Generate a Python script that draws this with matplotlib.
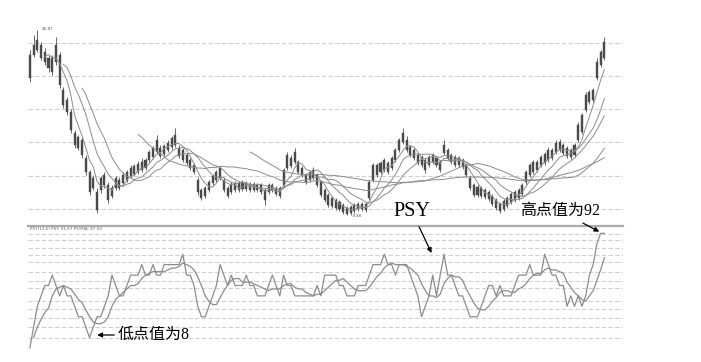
import numpy as np
import pandas as pd
import matplotlib
matplotlib.use('Agg')
import matplotlib.pyplot as plt

# daily bars (price scale is relative)
opens = [24.4, 24.4, 24.9, 25.4, 24.7, 24.1, 22.7, 23.7, 24.4, 20.9,
         19.9, 18.7, 16.6, 15.1, 15.9, 14.1, 12.7, 11.1, 10.7, 10.9,
         11.4, 11.4, 10.3, 11.1, 11.9, 11.6, 11.9, 12.3, 13.3, 12.7,
         12.9, 13.9, 13.9, 14.2, 14.7, 15.1, 14.5, 14.9, 15.2, 15.4,
         15.1, 14.9, 14.4, 13.9, 13.4, 11.9, 10.9, 10.3, 10.9, 11.6,
         11.9, 12.1, 11.9, 11.1, 10.7, 10.9, 11.6, 11.0, 11.6, 11.5,
         10.9, 11.4, 11.4, 10.9, 10.7, 10.9, 11.1, 11.1, 11.4, 13.1,
         14.1, 13.7, 13.7, 13.1, 12.4, 11.9, 12.1, 12.4, 11.7, 10.9,
         10.4, 9.3, 9.9, 9.7, 9.4, 9.1, 8.6, 8.8, 9.0, 9.5,
         9.5, 10.1, 11.9, 13.4, 12.7, 12.9, 13.6, 13.1, 13.9, 14.9,
         15.7, 15.9, 15.2, 14.9, 14.4, 14.2, 13.9, 13.4, 13.7, 14.1,
         13.7, 14.6, 14.9, 14.4, 14.2, 13.4, 13.9, 13.4, 12.1, 11.4,
         10.4, 11.1, 10.9, 10.7, 10.3, 9.9, 9.5, 9.0, 9.3, 9.7,
         9.9, 10.1, 10.5, 11.7, 12.4, 13.7, 12.9, 13.4, 13.6, 13.9,
         14.9, 14.7, 14.9, 15.4, 15.1, 14.9, 14.4, 15.9, 16.7, 18.9,
         20.7, 19.9, 22.1, 23.4, 24.1]
closes = [22.1, 25.4, 25.9, 24.1, 23.7, 23.1, 24.1, 25.4, 21.4, 19.4,
          18.7, 16.9, 15.4, 16.2, 14.4, 12.7, 10.7, 12.1, 8.9, 12.1,
          12.4, 9.9, 11.1, 12.1, 11.1, 12.4, 12.7, 13.1, 12.5, 13.5,
          13.7, 13.1, 14.7, 15.1, 15.9, 14.3, 15.3, 15.6, 16.1, 16.4,
          14.3, 13.9, 13.6, 13.1, 12.7, 10.7, 10.1, 11.1, 11.7, 12.3,
          12.7, 13.1, 10.9, 10.3, 11.5, 11.6, 10.9, 11.7, 11.0, 10.9,
          11.5, 10.9, 10.7, 9.9, 11.4, 11.4, 10.5, 10.3, 12.9, 14.4,
          13.3, 14.7, 12.7, 12.4, 11.7, 12.7, 12.9, 11.4, 10.4, 9.9,
          9.4, 10.1, 9.1, 9.0, 8.7, 8.5, 9.2, 9.4, 9.5, 9.0,
          8.9, 11.7, 13.4, 12.4, 13.6, 13.9, 12.7, 14.1, 14.9, 15.9,
          16.6, 14.9, 14.4, 14.1, 13.6, 13.4, 12.9, 14.2, 14.4, 13.4,
          12.9, 15.4, 14.1, 13.7, 13.4, 14.1, 13.2, 12.4, 11.1, 10.4,
          11.2, 10.3, 10.2, 10.0, 9.5, 9.1, 8.8, 9.8, 10.1, 10.5,
          10.7, 10.9, 11.4, 12.7, 13.4, 12.7, 13.7, 14.2, 14.5, 14.9,
          14.1, 15.6, 15.7, 14.6, 14.3, 14.2, 15.4, 17.4, 18.4, 20.4,
          19.7, 20.9, 23.7, 24.7, 25.7]
highs = [24.9, 26.4, 26.87, 25.7, 25.1, 24.4, 24.4, 26.2, 24.7, 21.2,
         20.2, 19.0, 16.9, 16.4, 16.2, 14.4, 12.9, 12.4, 11.1, 12.3,
         12.7, 11.7, 11.4, 12.3, 12.2, 12.7, 12.9, 13.4, 13.5, 13.8,
         14.1, 14.1, 14.9, 15.3, 16.4, 15.4, 15.5, 15.9, 16.3, 17.1,
         15.4, 15.1, 14.6, 14.1, 13.6, 12.2, 11.1, 11.3, 11.9, 12.5,
         12.9, 13.3, 12.1, 11.3, 11.7, 11.8, 11.8, 11.9, 11.8, 11.7,
         11.7, 11.6, 11.6, 11.1, 11.6, 11.6, 11.3, 11.3, 13.1, 14.7,
         14.4, 15.1, 13.9, 13.3, 12.6, 12.9, 13.2, 12.6, 11.9, 11.1,
         10.6, 10.3, 10.1, 9.9, 9.6, 9.3, 9.4, 9.6, 9.7, 9.7,
         9.7, 11.9, 13.6, 13.6, 13.8, 14.1, 13.8, 14.3, 15.1, 16.1,
         17.1, 16.3, 15.4, 15.1, 14.6, 14.4, 14.1, 14.4, 14.6, 14.3,
         13.9, 15.9, 15.1, 14.6, 14.4, 14.3, 14.1, 13.6, 12.3, 11.6,
         11.4, 11.3, 11.1, 10.9, 10.5, 10.1, 9.7, 10.0, 10.3, 10.7,
         10.9, 11.1, 11.6, 12.9, 13.6, 13.9, 13.9, 14.4, 14.7, 15.2,
         15.1, 15.9, 16.0, 15.6, 15.3, 15.1, 15.6, 17.7, 18.6, 20.7,
         20.9, 21.1, 24.1, 24.9, 26.2]
lows = [21.7, 24.2, 24.7, 23.9, 23.4, 22.7, 22.4, 23.4, 21.1, 19.1,
        18.4, 16.6, 15.1, 14.9, 14.1, 12.4, 10.4, 10.9, 8.6, 10.6,
        11.1, 9.6, 10.1, 10.9, 10.9, 11.4, 11.7, 12.1, 12.3, 12.5,
        12.7, 12.9, 13.7, 14.0, 14.5, 14.1, 14.3, 14.7, 15.0, 15.2,
        14.1, 13.7, 13.4, 12.9, 12.5, 10.4, 9.9, 10.1, 10.7, 11.4,
        11.7, 11.9, 10.7, 10.1, 10.5, 10.7, 10.7, 10.8, 10.8, 10.7,
        10.7, 10.7, 10.5, 9.4, 10.5, 10.7, 10.3, 10.1, 11.2, 12.9,
        13.1, 13.5, 12.5, 12.2, 11.5, 11.7, 11.9, 11.2, 10.2, 9.7,
        9.2, 9.1, 8.9, 8.8, 8.5, 8.38, 8.4, 8.6, 8.8, 8.8,
        8.7, 9.9, 11.7, 12.2, 12.5, 12.7, 12.5, 12.9, 13.7, 14.7,
        15.5, 14.7, 14.2, 13.9, 13.4, 13.2, 12.6, 13.2, 13.5, 13.2,
        12.7, 14.4, 13.9, 13.5, 13.2, 13.2, 13.0, 12.2, 10.9, 10.2,
        10.2, 10.1, 10.0, 9.8, 9.3, 8.9, 8.6, 8.8, 9.1, 9.5,
        9.7, 9.9, 10.3, 11.5, 12.2, 12.5, 12.7, 13.2, 13.4, 13.7,
        13.9, 14.5, 14.7, 14.4, 14.1, 14.0, 14.2, 15.7, 16.5, 18.7,
        19.5, 19.7, 21.9, 23.2, 23.9]

# PSY(12) values
psy = [0, 16.7, 33.3, 41.7, 50, 50, 58.3, 50, 41.7, 50,
       41.7, 41.7, 33.3, 25, 25, 16.7, 8.3, 16.7, 25, 25,
       33.3, 41.7, 58.3, 50, 41.7, 41.7, 50, 58.3, 58.3, 58.3,
       66.7, 58.3, 58.3, 66.7, 58.3, 58.3, 66.7, 66.7, 66.7, 66.7,
       66.7, 75, 58.3, 58.3, 50, 33.3, 25, 25, 33.3, 41.7,
       50, 66.7, 58.3, 50, 58.3, 50, 50, 50, 58.3, 50,
       50, 41.7, 41.7, 41.7, 50, 58.3, 50, 41.7, 58.3, 50,
       50, 41.7, 41.7, 41.7, 41.7, 41.7, 41.7, 50, 41.7, 58.3,
       58.3, 58.3, 58.3, 50, 50, 41.7, 41.7, 41.7, 50, 50,
       50, 58.3, 66.7, 66.7, 66.7, 75, 66.7, 66.7, 58.3, 66.7,
       66.7, 66.7, 58.3, 50, 41.7, 25, 33.3, 41.7, 58.3, 41.7,
       58.3, 75, 58.3, 58.3, 50, 41.7, 41.7, 33.3, 25, 25,
       25, 33.3, 41.7, 50, 50, 41.7, 50, 41.7, 41.7, 41.7,
       50, 58.3, 58.3, 58.3, 66.7, 58.3, 58.3, 58.3, 75, 66.7,
       58.3, 58.3, 50, 50, 33.3, 41.7, 33.3, 41.7, 33.3, 41.7,
       58.3, 66.7, 83.3, 91.7, 91.7]

ma_periodos = [5, 10, 15, 30, 60]
rejilla_precio = [25.6, 22.3, 19.0, 15.7, 12.3, 9.0]
rejilla_psy = [91, 86, 80, 74, 69, 61, 54, 48, 38, 31, 24, 17, 8]

W, H = 701, 362
fig = plt.figure(figsize=(W / 100, H / 100), dpi=100)
ax1 = fig.add_axes([28 / W, 1 - 226 / H, 595 / W, 206 / H])
ax2 = fig.add_axes([28 / W, 6 / H, 595 / W, 130 / H])

x = np.arange(len(closes))
o = np.array(opens)
c = np.array(closes)

# panel superior: velas + medias moviles
for y in rejilla_precio:
    ax1.axhline(y, color='#cfcfcf', lw=0.8, ls=(0, (4, 2)), zorder=0)
ax1.vlines(x, lows, highs, color='#505050', lw=0.6, zorder=2)
alto = np.maximum(np.abs(c - o), 0.08)
ax1.bar(x, alto, bottom=np.minimum(o, c), width=0.55, color='#4a4a4a',
        edgecolor='#4a4a4a', lw=0.3, zorder=2)
serie = pd.Series(closes)
for n in ma_periodos:
    ax1.plot(x, serie.rolling(n).mean(), color='#8c8c8c', lw=0.7, zorder=3)
ax1.text(3.3, 27.0, '26.87', fontsize=3, color='#555555', va='center')
ax1.text(86.5, 8.25, '8.38', fontsize=3, color='#555555', va='center')
ax1.set_xlim(-0.5, 159)
ax1.set_ylim(7.3, 27.9)
ax1.axis('off')

# panel inferior: PSY y su media
for y in rejilla_psy:
    ax2.axhline(y, color='#cfcfcf', lw=0.8, ls=(0, (4, 2)), zorder=0)
psy_s = pd.Series(psy)
ax2.plot(x, psy_s, color='#8c8c8c', lw=0.9)
ax2.plot(x, psy_s.rolling(6, min_periods=2).mean(), color='#8c8c8c', lw=0.9)
ax2.set_xlim(-0.5, 159)
ax2.set_ylim(-6.4, 97.6)
ax2.set_xticks([])
ax2.set_yticks([])
for lado in ['left', 'right', 'bottom']:
    ax2.spines[lado].set_visible(False)
ax2.spines['top'].set_color('#aaaaaa')
ax2.spines['top'].set_linewidth(1.6)
ax2.text(0, 96.5, 'PSY(12,6) PSY: 91.67 PSYMA: 87.50', fontsize=3,
         color='#666666', va='top')

# anotaciones
serif_cjk = ['Liberation Serif', 'Noto Sans CJK SC']
flecha = dict(arrowstyle='-|>', color='black', lw=0.9, mutation_scale=7)
ax2.annotate('PSY', xy=(108, 74), xytext=(412, H - 212),
             textcoords='figure pixels', ha='center', va='center',
             fontsize=14.5, family='Liberation Serif', arrowprops=flecha)
ax2.annotate('高点值为92', xy=(153.3, 92), xytext=(560, H - 211),
             textcoords='figure pixels', ha='center', va='center',
             fontsize=11.5, family=serif_cjk, arrowprops=flecha)
ax2.annotate('', xy=(17.3, 10.4), xytext=(117, H - 335),
             textcoords='figure pixels', arrowprops=flecha)
fig.text(118 / W, 1 - 335 / H, '低点值为8', fontsize=11.5, family=serif_cjk,
         va='center')

fig.savefig('out.png', dpi=100, facecolor='white')
